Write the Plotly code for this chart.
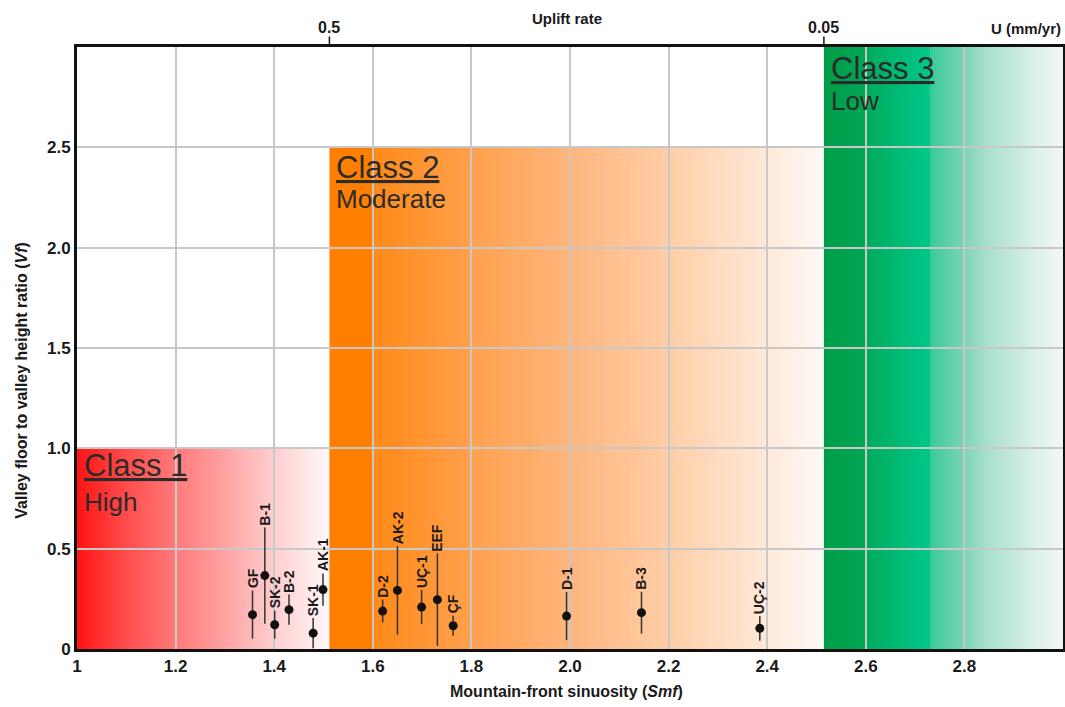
import plotly.graph_objects as go

# ---------------- data ----------------
site_labels = ["GF", "B-1", "SK-2", "B-2", "SK-1", "AK-1", "D-2", "AK-2",
               "UÇ-1", "EEF", "ÇF", "D-1", "B-3", "UÇ-2"]
smf_values = [1.356, 1.381, 1.401, 1.430, 1.479, 1.499, 1.620, 1.650,
              1.699, 1.731, 1.763, 1.993, 2.145, 2.385]
vf_values = [0.171, 0.366, 0.121, 0.196, 0.079, 0.296, 0.189, 0.292,
             0.209, 0.246, 0.116, 0.164, 0.181, 0.103]
vf_errors = [0.12, 0.24, 0.07, 0.075, 0.075, 0.08, 0.057, 0.22,
             0.085, 0.23, 0.05, 0.12, 0.104, 0.062]

class_names = ["Class 1", "Class 2", "Class 3"]
class_levels = ["High", "Moderate", "Low"]
class_smf_min = [1.0, 1.512, 2.515]
class_smf_max = [1.512, 2.515, 3.0]
class_vf_max = [1.0, 2.5, 3.0]

uplift_tickvals = [1.512, 2.515]
uplift_ticktext = ["0.5", "0.05"]

x_tickvals = [1.0, 1.2, 1.4, 1.6, 1.8, 2.0, 2.2, 2.4, 2.6, 2.8]
x_ticktext = ["1", "1.2", "1.4", "1.6", "1.8", "2.0", "2.2", "2.4", "2.6", "2.8"]
y_tickvals = [0, 0.5, 1.0, 1.5, 2.0, 2.5]
y_ticktext = ["0", "0.5", "1.0", "1.5", "2.0", "2.5"]

# ---------------- styles ----------------
# gradient stops as fraction of the class width
gradient_stops = [
    [(0.0, "#ff1414"), (0.196, "#ff4d4d"), (0.392, "#ff7a7a"), (0.588, "#ffa3a3"),
     (0.784, "#ffcfcf"), (1.0, "#fff8f8")],
    [(0.0, "#ff7f00"), (0.086, "#ff8000"), (0.091, "#ff8a18"), (0.293, "#ffa14f"),
     (0.495, "#ffb67f"), (0.697, "#ffcfaa"), (0.899, "#ffebdd"), (1.0, "#fbf9f7")],
    [(0.0, "#009e48"), (0.18, "#00a656"), (0.184, "#00ad5e"), (0.44, "#00c78b"),
     (0.448, "#3ccb9b"), (0.58, "#78d3b3"), (0.68, "#a8e0cc"), (0.89, "#dcf1e9"),
     (1.0, "#f4f8f6")],
]
FONT = "Arial, Liberation Sans, sans-serif"
TEXT_DARK = "#2b2b2b"


def hex_to_rgb(h):
    h = h.lstrip("#")
    return tuple(int(h[i:i + 2], 16) for i in (0, 2, 4))


def color_at(stops, f):
    for (f0, c0), (f1, c1) in zip(stops[:-1], stops[1:]):
        if f0 <= f <= f1:
            t = 0 if f1 == f0 else (f - f0) / (f1 - f0)
            a, b = hex_to_rgb(c0), hex_to_rgb(c1)
            return "rgb(%d,%d,%d)" % tuple(round(a[k] + (b[k] - a[k]) * t) for k in range(3))
    return stops[-1][1]


shapes = []
n_slices = 160
for x0c, x1c, ytop, stops in zip(class_smf_min, class_smf_max, class_vf_max, gradient_stops):
    w = (x1c - x0c) / n_slices
    for i in range(n_slices):
        xa = x0c + i * w
        xb = min(x1c, xa + w * 1.6)
        shapes.append(dict(type="rect", xref="x", yref="y", x0=xa, x1=xb, y0=0, y1=ytop,
                           fillcolor=color_at(stops, (i + 0.5) / n_slices),
                           line=dict(width=0), layer="below"))

# top (uplift rate) ticks
for tv in uplift_tickvals:
    shapes.append(dict(type="line", xref="x", yref="paper", x0=tv, x1=tv, y0=1.0, y1=1.0175,
                       line=dict(color="#111111", width=1.5), layer="above"))

fig = go.Figure()

fig.add_trace(go.Scatter(
    x=smf_values, y=vf_values, mode="markers",
    marker=dict(color="#111111", size=9),
    error_y=dict(type="data", array=vf_errors, visible=True, color="#333333",
                 thickness=1.5, width=0),
    showlegend=False, hoverinfo="skip"))

annotations = []
for lab, xv, yv, ev in zip(site_labels, smf_values, vf_values, vf_errors):
    annotations.append(dict(x=xv, y=yv + ev, xref="x", yref="y", text="<b>%s</b>" % lab,
                            textangle=-90, showarrow=False, xanchor="center", yanchor="bottom",
                            yshift=0, font=dict(family=FONT, size=14, color="#1a1a1a")))

class_label_y = [0.985, 2.47, 2.965]
level_label_y = [0.79, 2.30, 2.79]
for name, lvl, x0c, yc, yl in zip(class_names, class_levels, class_smf_min, class_label_y, level_label_y):
    annotations.append(dict(x=x0c, y=yc, xref="x", yref="y", text="<u>%s</u>" % name,
                            showarrow=False, xanchor="left", yanchor="top", xshift=5, yshift=5,
                            font=dict(family=FONT, size=31, color=TEXT_DARK)))
    annotations.append(dict(x=x0c, y=yl, xref="x", yref="y", text=lvl,
                            showarrow=False, xanchor="left", yanchor="top", xshift=5, yshift=5,
                            font=dict(family=FONT, size=26, color=TEXT_DARK)))

for tv, tt in zip(uplift_tickvals, uplift_ticktext):
    annotations.append(dict(x=tv, y=1.032, xref="x", yref="paper", text="<b>%s</b>" % tt,
                            showarrow=False, xanchor="center", yanchor="middle",
                            font=dict(family=FONT, size=16, color="#1a1a1a")))

annotations += [
    dict(x=0.497, y=1.048, xref="paper", yref="paper", text="<b>Uplift rate</b>",
         showarrow=False, xanchor="center", yanchor="middle",
         font=dict(family=FONT, size=15, color="#1a1a1a")),
    dict(x=1.0, y=1.03, xref="paper", yref="paper", text="<b>U (mm/yr)</b>",
         showarrow=False, xanchor="right", yanchor="middle",
         font=dict(family=FONT, size=15, color="#1a1a1a")),
    dict(x=0.496, y=-0.07, xref="paper", yref="paper",
         text="<b>Mountain-front sinuosity (<i>Smf</i>)</b>",
         showarrow=False, xanchor="center", yanchor="middle",
         font=dict(family=FONT, size=16, color="#1a1a1a")),
    dict(x=-0.056, y=0.447, xref="paper", yref="paper",
         text="<b>Valley floor to valley height ratio (<i>Vf</i>)</b>", textangle=-90,
         showarrow=False, xanchor="center", yanchor="middle",
         font=dict(family=FONT, size=16, color="#1a1a1a")),
]

tickfont = dict(family=FONT, size=17, color="#1a1a1a", weight="bold")

fig.update_layout(
    width=1065, height=707,
    margin=dict(l=77, r=2, t=47, b=58),
    plot_bgcolor="white", paper_bgcolor="white",
    shapes=shapes, annotations=annotations,
    xaxis=dict(range=[1, 3], tickvals=x_tickvals, ticktext=x_ticktext,
               showgrid=True, gridcolor="#c8c8c8", gridwidth=1.5,
               showline=True, linecolor="#111111", linewidth=3, mirror=True,
               ticks="", tickfont=tickfont, zeroline=False, automargin=False),
    yaxis=dict(range=[0, 3], tickvals=y_tickvals, ticktext=y_ticktext,
               showgrid=True, gridcolor="#c8c8c8", gridwidth=1.5,
               showline=True, linecolor="#111111", linewidth=3, mirror=True,
               ticks="", tickfont=tickfont, zeroline=False, automargin=False),
)

# remove the default 8px page margin so the figure fills the window exactly
fig.write_html("out.html", config={"displayModeBar": False},
               post_script="document.body.style.margin='0px';document.body.style.overflow='hidden';")
